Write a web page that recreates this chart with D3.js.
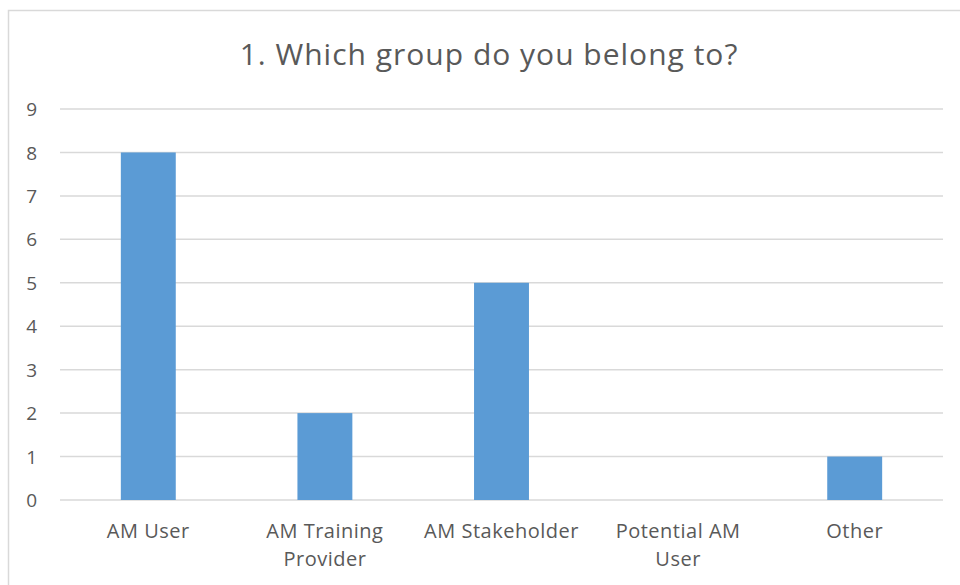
<!DOCTYPE html>
<html>
<head>
<meta charset="utf-8">
<script src="https://cdn.jsdelivr.net/npm/d3@7"></script>
<style>
    body { margin: 0; background: #fff; }
    svg text { font-family: "Open Sans", Lato, sans-serif; fill: #595959; }
</style>
</head>
<body>
<div id="main"></div>
<script>
const categories = [["AM User"], ["AM Training", "Provider"], ["AM Stakeholder"], ["Potential AM", "User"], ["Other"]];
const values = [8, 2, 5, 0, 1];
const yTicks = [0, 1, 2, 3, 4, 5, 6, 7, 8, 9];
const title = "1. Which group do you belong to?";

const w = 960;
const h = 585;

const svg = d3.select("#main").append("svg").attr("width", w).attr("height", h);

// chart border (runs off the right and bottom edge)
svg.append("rect")
    .attr("x", 8.5).attr("y", 10.5)
    .attr("width", 970).attr("height", 600)
    .style("fill", "none").style("stroke", "#d9d9d9").style("stroke-width", 1.5);

svg.append("text")
    .attr("x", 489).attr("y", 65)
    .style("text-anchor", "middle")
    .style("font-size", "30px")
    .style("letter-spacing", "1px")
    .text(title);

const xScale = d3.scaleBand()
    .domain(d3.range(categories.length))
    .range([60, 943])
    .paddingInner(0.689)
    .paddingOuter(0.3445);

const yScale = d3.scaleLinear()
    .domain([0, 9])
    .range([500, 109]);

// gridlines
svg.append("g")
    .selectAll("line")
    .data(yTicks)
    .enter()
    .append("line")
    .attr("x1", 60).attr("x2", 943)
    .attr("y1", d => yScale(d)).attr("y2", d => yScale(d))
    .style("stroke", "#d9d9d9").style("stroke-width", 1.5);

const yAxis = d3.axisLeft(yScale).tickValues(yTicks).tickSize(0).tickPadding(0);
const yg = svg.append("g").attr("transform", "translate(37,0)").call(yAxis);
yg.select(".domain").remove();
yg.selectAll("text")
    .style("font-size", "19px")
    .style("font-family", "'Open Sans', Lato, sans-serif")
    .style("fill", "#595959")
    .attr("dy", "0.35em");

svg.selectAll("rect.bar")
    .data(values)
    .enter()
    .append("rect")
    .attr("class", "bar")
    .attr("x", (d, i) => xScale(i))
    .attr("y", d => yScale(d))
    .attr("width", xScale.bandwidth())
    .attr("height", d => yScale(0) - yScale(d))
    .style("fill", "#5b9bd5");

// category labels
const labels = svg.append("g")
    .selectAll("text")
    .data(categories)
    .enter()
    .append("text")
    .attr("x", (d, i) => xScale(i) + xScale.bandwidth() / 2)
    .attr("y", 538)
    .style("text-anchor", "middle")
    .style("font-size", "20px")
    .style("letter-spacing", "0.5px");

labels.selectAll("tspan")
    .data(d => d)
    .enter()
    .append("tspan")
    .attr("x", function () { return d3.select(this.parentNode).attr("x"); })
    .attr("dy", (d, i) => i === 0 ? 0 : 28)
    .text(d => d);
</script>
</body>
</html>
